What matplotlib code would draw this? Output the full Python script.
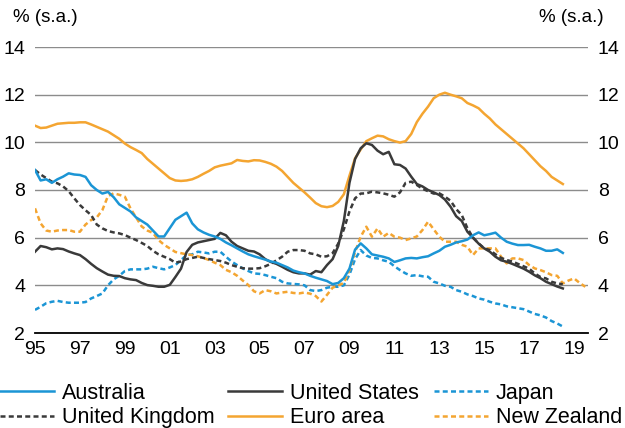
import numpy as np
import matplotlib.pyplot as plt
from matplotlib.lines import Line2D

plt.rcParams['font.family'] = ['Liberation Sans', 'DejaVu Sans']

# quarterly unemployment rates, % s.a.
quarters = np.arange(1995, 2018.51, 0.25)
quarters_nz = np.arange(1995, 2019.51, 0.25)

australia = [
    8.84, 8.40, 8.45, 8.30, 8.45, 8.56, 8.70, 8.65, 8.63, 8.55, 8.20, 8.00,
    7.85, 7.92, 7.70, 7.40, 7.25, 7.10, 6.85, 6.70, 6.55, 6.30, 6.05, 6.05,
    6.40, 6.75, 6.90, 7.05, 6.60, 6.35, 6.22, 6.12, 6.05, 5.95, 5.80, 5.68,
    5.55, 5.42, 5.30, 5.22, 5.15, 5.08, 5.00, 4.95, 4.85, 4.75, 4.62, 4.55,
    4.50, 4.40, 4.32, 4.25, 4.18, 4.05, 4.10, 4.30, 4.70, 5.50, 5.76, 5.55,
    5.30, 5.25, 5.20, 5.13, 4.98, 5.05, 5.13, 5.15, 5.13, 5.18, 5.22, 5.34,
    5.45, 5.62, 5.70, 5.80, 5.85, 5.92, 6.10, 6.22, 6.10, 6.15, 6.21, 6.00,
    5.83, 5.75, 5.69, 5.69, 5.70, 5.62, 5.55, 5.45, 5.45, 5.51, 5.36]
united_states = [
    5.41, 5.65, 5.60, 5.51, 5.55, 5.52, 5.42, 5.34, 5.27, 5.10, 4.90, 4.72,
    4.58, 4.45, 4.40, 4.39, 4.30, 4.25, 4.22, 4.10, 4.01, 3.98, 3.94, 3.94,
    4.02, 4.35, 4.70, 5.40, 5.70, 5.80, 5.85, 5.90, 5.95, 6.20, 6.10, 5.83,
    5.65, 5.55, 5.45, 5.42, 5.30, 5.10, 4.98, 4.90, 4.78, 4.65, 4.55, 4.50,
    4.50, 4.45, 4.60, 4.55, 4.85, 5.10, 5.65, 6.70, 8.30, 9.30, 9.75, 9.96,
    9.89, 9.65, 9.50, 9.60, 9.08, 9.05, 8.90, 8.56, 8.25, 8.15, 8.00, 7.90,
    7.79, 7.60, 7.30, 6.90, 6.70, 6.25, 6.00, 5.75, 5.55, 5.41, 5.20, 5.05,
    4.99, 4.90, 4.80, 4.70, 4.57, 4.42, 4.30, 4.15, 4.05, 3.95, 3.87]
japan = [
    2.97, 3.10, 3.25, 3.31, 3.35, 3.30, 3.27, 3.27, 3.27, 3.30, 3.45, 3.55,
    3.66, 4.00, 4.25, 4.40, 4.60, 4.67, 4.67, 4.67, 4.70, 4.78, 4.72, 4.67,
    4.75, 4.85, 5.06, 5.27, 5.30, 5.41, 5.38, 5.34, 5.41, 5.41, 5.20, 5.00,
    4.85, 4.71, 4.60, 4.50, 4.48, 4.43, 4.36, 4.30, 4.15, 4.08, 4.06, 4.04,
    4.00, 3.80, 3.76, 3.80, 3.90, 3.94, 3.94, 4.00, 4.45, 5.10, 5.48, 5.25,
    5.15, 5.13, 5.05, 4.99, 4.80, 4.64, 4.50, 4.40, 4.43, 4.38, 4.36, 4.15,
    4.08, 3.98, 3.94, 3.80, 3.73, 3.62, 3.55, 3.45, 3.40, 3.31, 3.24, 3.20,
    3.12, 3.08, 3.04, 3.00, 2.90, 2.80, 2.74, 2.65, 2.50, 2.40, 2.27]
united_kingdom = [
    8.84, 8.65, 8.50, 8.35, 8.28, 8.15, 7.95, 7.65, 7.37, 7.15, 6.95, 6.55,
    6.39, 6.28, 6.22, 6.18, 6.11, 6.00, 5.90, 5.78, 5.65, 5.45, 5.30, 5.20,
    5.10, 4.95, 5.00, 5.10, 5.15, 5.20, 5.15, 5.10, 5.06, 5.02, 4.95, 4.85,
    4.78, 4.72, 4.70, 4.70, 4.72, 4.80, 4.90, 5.05, 5.20, 5.41, 5.48, 5.48,
    5.45, 5.34, 5.30, 5.20, 5.22, 5.35, 5.75, 6.35, 7.10, 7.65, 7.85, 7.86,
    7.93, 7.90, 7.86, 7.80, 7.72, 7.90, 8.30, 8.35, 8.21, 8.05, 7.95, 7.85,
    7.86, 7.72, 7.55, 7.20, 6.95, 6.40, 6.00, 5.76, 5.55, 5.48, 5.30, 5.15,
    5.06, 5.00, 4.90, 4.80, 4.70, 4.50, 4.35, 4.29, 4.15, 4.08, 4.05]
euro_area = [
    10.70, 10.60, 10.62, 10.70, 10.78, 10.80, 10.82, 10.82, 10.84, 10.84, 10.75, 10.65,
    10.55, 10.45, 10.30, 10.15, 9.95, 9.80, 9.68, 9.55, 9.30, 9.10, 8.90, 8.70,
    8.50, 8.40, 8.38, 8.40, 8.45, 8.55, 8.68, 8.80, 8.95, 9.02, 9.07, 9.12,
    9.26, 9.22, 9.20, 9.25, 9.24, 9.18, 9.10, 8.98, 8.80, 8.55, 8.30, 8.10,
    7.90, 7.68, 7.45, 7.32, 7.28, 7.33, 7.50, 7.82, 8.60, 9.33, 9.70, 10.05,
    10.17, 10.28, 10.25, 10.13, 10.05, 9.99, 10.05, 10.35, 10.85, 11.20, 11.50, 11.85,
    12.00, 12.08, 12.00, 11.93, 11.85, 11.65, 11.55, 11.43, 11.20, 11.00, 10.75, 10.55,
    10.35, 10.15, 9.95, 9.75, 9.50, 9.25, 9.00, 8.80, 8.55, 8.40, 8.25]
new_zealand = [
    7.23, 6.60, 6.30, 6.25, 6.30, 6.32, 6.32, 6.25, 6.25, 6.55, 6.74, 6.85,
    7.16, 7.75, 7.86, 7.80, 7.72, 7.23, 6.85, 6.47, 6.30, 6.20, 5.90, 5.70,
    5.55, 5.40, 5.35, 5.30, 5.27, 5.22, 5.15, 5.06, 4.95, 4.85, 4.65, 4.55,
    4.40, 4.20, 4.01, 3.75, 3.66, 3.80, 3.75, 3.66, 3.70, 3.73, 3.68, 3.66,
    3.70, 3.65, 3.55, 3.32, 3.60, 3.90, 4.00, 4.10, 4.64, 5.40, 6.04, 6.46,
    6.04, 6.39, 6.04, 6.20, 6.04, 6.00, 5.90, 5.97, 6.05, 6.32, 6.67, 6.35,
    6.04, 5.83, 5.83, 5.83, 5.70, 5.62, 5.27, 5.55, 5.55, 5.55, 5.55, 5.20,
    4.92, 5.13, 5.13, 5.06, 4.85, 4.71, 4.64, 4.55, 4.43, 4.40, 4.08, 4.20,
    4.29, 4.10, 3.94]

year_ticks = np.arange(1995, 2020, 2)
year_labels = ['95', '97', '99', '01', '03', '05', '07', '09', '11', '13', '15', '17', '19']
y_ticks = np.arange(2, 15, 2)

blue = '#1b95d5'
orange = '#f4a531'
dark = '#3a3a3a'
dash = (0, (2.0, 1.3))
lw = 1.8

fig = plt.figure(figsize=(6.25, 4.28), dpi=100)
ax = fig.add_axes([35 / 625, 1 - 333 / 428, 553 / 625, 286 / 428])

ax.plot(quarters, japan, color=blue, lw=lw, ls=dash)
ax.plot(quarters_nz, new_zealand, color=orange, lw=lw, ls=dash)
ax.plot(quarters, united_kingdom, color=dark, lw=lw, ls=dash)
ax.plot(quarters, euro_area, color=orange, lw=lw)
ax.plot(quarters, united_states, color=dark, lw=lw)
ax.plot(quarters, australia, color=blue, lw=lw)

ax.set_xlim(1995, 2019.62)
ax.set_ylim(2, 14)
ax.set_xticks(year_ticks)
ax.set_xticklabels(year_labels)
ax.set_yticks(y_ticks)
ax.yaxis.grid(True, color='#8c8c8c', lw=1.0)
ax.set_axisbelow(True)
for side in ['left', 'right', 'top']:
    ax.spines[side].set_visible(False)
ax.spines['bottom'].set_color('black')
ax.spines['bottom'].set_linewidth(1.3)
ax.tick_params(axis='x', length=0, pad=6, labelsize=14)
ax.tick_params(axis='y', length=0, pad=7, labelsize=14,
               labelleft=True, labelright=True)

fig.text(13 / 625, 1 - 17 / 428, '% (s.a.)', fontsize=13.5, ha='left', va='center')
fig.text(604 / 625, 1 - 17 / 428, '% (s.a.)', fontsize=13.5, ha='right', va='center')

# three legend columns, each placed on its own
columns = [
    [('Australia', blue, '-'), ('United Kingdom', dark, dash)],
    [('United States', dark, '-'), ('Euro area', orange, '-')],
    [('Japan', blue, dash), ('New Zealand', orange, dash)],
]
col_x = [0, 228, 434]
for x0, col in zip(col_x, columns):
    handles = [Line2D([], [], color=c, ls=s, lw=lw) for _, c, s in col]
    labels = [name for name, _, _ in col]
    fig.legend(handles, labels, loc='upper left',
               bbox_to_anchor=(x0 / 625, 1 - 383 / 428),
               frameon=False, fontsize=15.5, borderpad=0, borderaxespad=0,
               handlelength=2.5, handletextpad=0.37, labelspacing=0.15)

fig.savefig('out.png', dpi=100)
